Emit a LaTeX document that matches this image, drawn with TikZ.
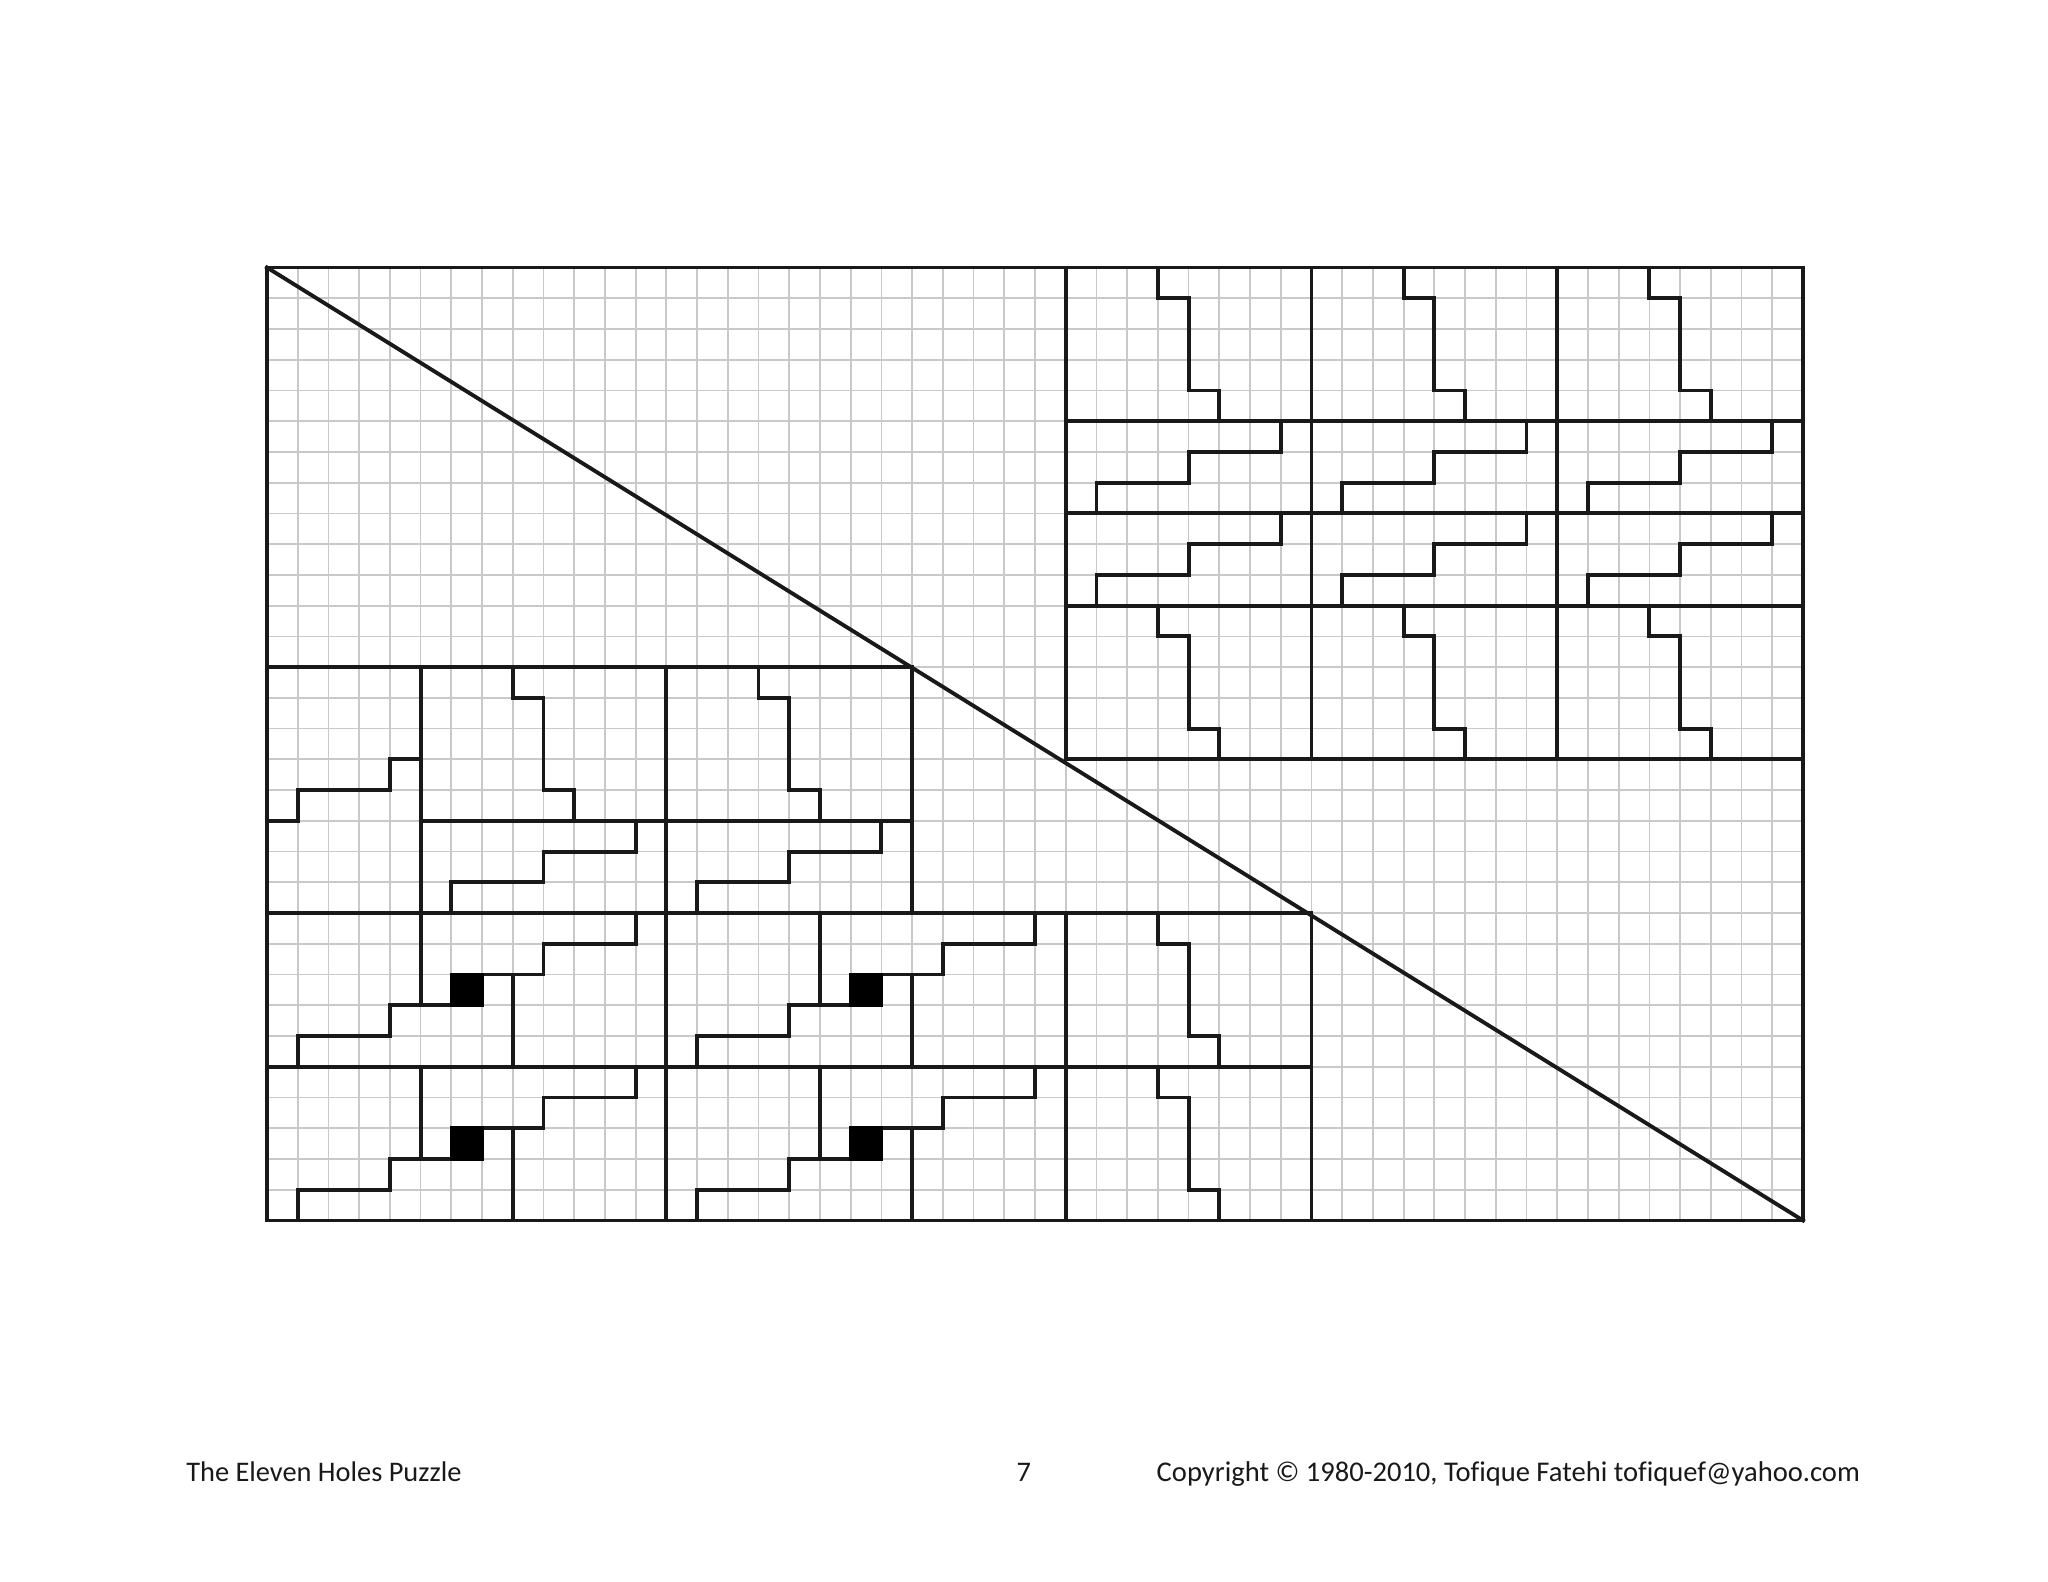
\documentclass[tikz,border=0pt]{standalone}
\usepackage{fontspec}
\setmainfont[Ligatures=NoCommon]{Carlito}
\tikzset{
  gridline/.style={draw=black!21, line width=0.5pt},
  heavy/.style={draw=black!90, line width=1.1pt, line cap=rect},
  hole/.style={draw=black, fill=black, line width=1pt},
  footer/.style={anchor=base west, inner sep=0pt, font=\fontsize{8.08}{10}\selectfont, text=black!90}
}
\begin{document}
\begin{tikzpicture}[x=0.3072cm, y=-0.3074cm]
        \useasboundingbox (-8.691,-8.702) rectangle (57.975,42.76);
        % squared paper
        \foreach \i in {1,...,49}
            \draw[gridline] (\i,0) -- (\i,31);
        \foreach \j in {1,...,30}
            \draw[gridline] (0,\j) -- (50,\j);
        % outline and diagonal
        \draw[heavy] (0,0) rectangle (50,31);
        \draw[heavy] (0,0) -- (50,31);
        % straight cuts
        \foreach \fromx/\fromy/\tox/\toy in {
            0/13/21/13, 5/18/21/18, 0/21/34/21, 0/26/34/26,
            26/5/50/5, 26/8/50/8, 26/11/50/11, 26/16/50/16,
            26/0/26/16, 34/0/34/16, 42/0/42/16,
            5/13/5/24, 13/13/13/31, 21/13/21/21,
            21/23/21/26, 21/28/21/31, 8/23/8/26, 8/28/8/31,
            18/21/18/24, 18/26/18/29, 5/26/5/29, 26/21/26/31, 34/21/34/31}
            \draw[heavy] (\fromx,\fromy) -- (\tox,\toy);
        % tall steps
        \foreach \cx/\cy in {26/0, 34/0, 42/0, 26/11, 34/11, 42/11,
            5/13, 13/13, 26/21, 26/26}
            \draw[heavy, shift={(\cx,\cy)}] (3,0) -- (3,1) -- (4,1) -- (4,4) -- (5,4) -- (5,5);
        % wide steps
        \foreach \cx/\cy in {26/5, 34/5, 42/5, 26/8, 34/8, 42/8, 5/18, 13/18}
            \draw[heavy, shift={(\cx,\cy)}] (1,3) -- (1,2) -- (4,2) -- (4,1) -- (7,1) -- (7,0);
        % left edge piece
        \draw[heavy] (0,18) -- (1,18) -- (1,17) -- (4,17) -- (4,16) -- (5,16);
        % long steps with the black holes
        \foreach \cx/\cy in {0/21, 13/21, 0/26, 13/26} {
            \draw[heavy, shift={(\cx,\cy)}] (1,5) -- (1,4) -- (4,4) -- (4,3) -- (6,3);
            \draw[heavy, shift={(\cx,\cy)}] (7,2) -- (9,2) -- (9,1) -- (12,1) -- (12,0);
            \filldraw[hole, shift={(\cx,\cy)}] (6,2) rectangle (7,3);
        }
        % page footer
        \node[footer] (title) at (-2.65,39.5) {The Eleven Holes Puzzle};
        \node[footer] (page) at (24.38,39.5) {7};
        \node[footer, font=\fontsize{8.13}{10}\selectfont] (copyright) at (28.94,39.5) {Copyright © 1980-2010, Tofique Fatehi tofiquef@yahoo.com};
    \end{tikzpicture}
\end{document}
